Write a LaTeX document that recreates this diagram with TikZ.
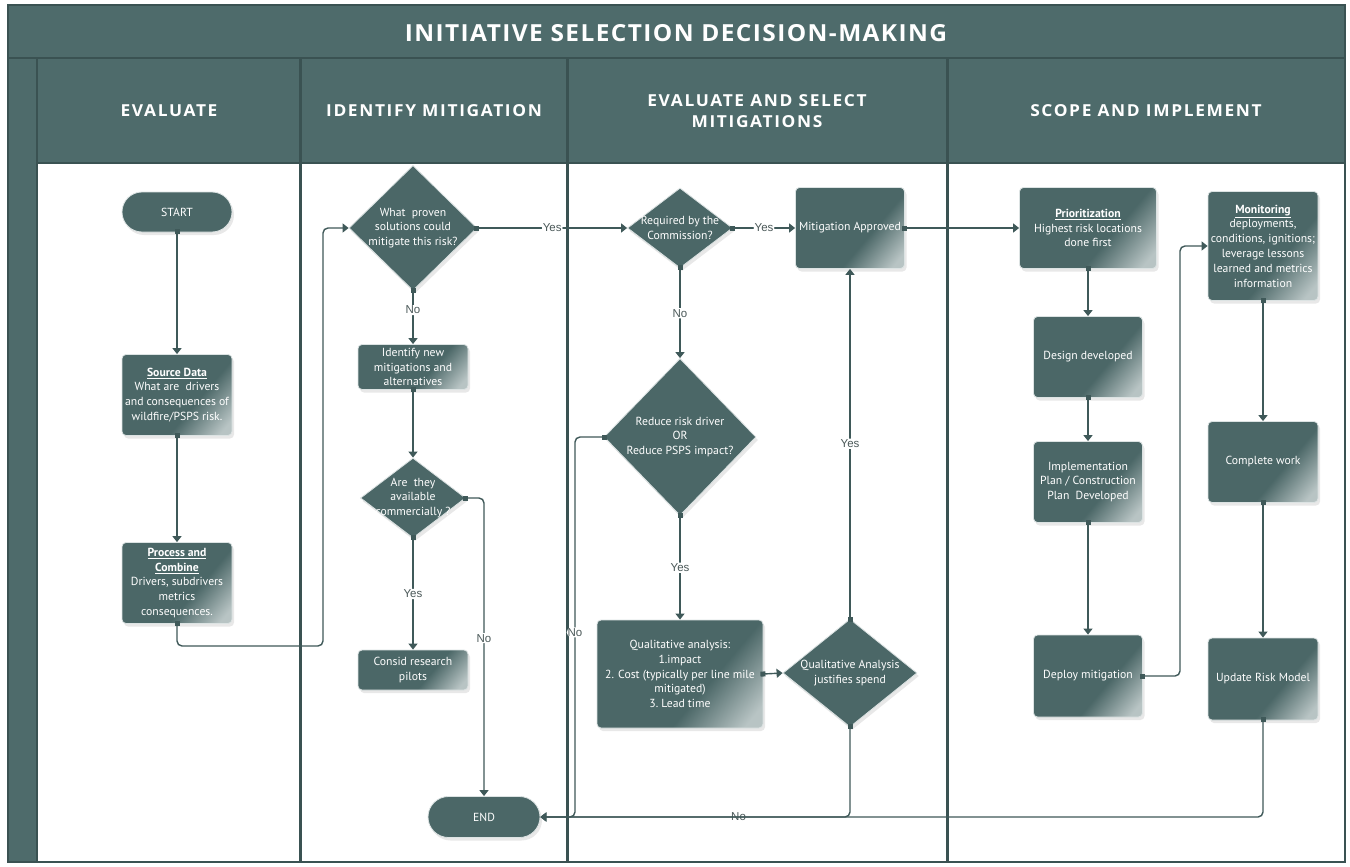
\documentclass[tikz,border=0pt]{standalone}
\usepackage{fontspec}
\setmainfont{PT Sans}
\newfontfamily\labfont{Liberation Sans}
\newfontfamily\hdrfont{Open Sans}[FakeStretch=1.05, LetterSpace=10]
\newfontfamily\ttlfont{Open Sans}[FakeStretch=1.04, LetterSpace=6]
\usetikzlibrary{shapes.geometric,shapes.misc,arrows.meta,shadows,calc}

\definecolor{teal1}{HTML}{4B6767}
\definecolor{tealhdr}{HTML}{4E6B6B}
\definecolor{tealline}{HTML}{3F5959}
\definecolor{teallight}{HTML}{B8C4C4}
\definecolor{sepcol}{HTML}{3A5252}
\definecolor{labcol}{HTML}{4A5858}
\definecolor{glow}{HTML}{DCE3E3}

\pgfdeclarehorizontalshading{boxshade}{100bp}{color(0bp)=(teal1); color(60bp)=(teal1); color(80bp)=(teallight); color(100bp)=(teallight)}

\tikzset{
  nodefont/.style={font=\fontsize{11.7}{14.8}\selectfont},
  shad/.style={drop shadow={opacity=0.18, shadow xshift=2pt, shadow yshift=-3pt}},
  box/.style={rectangle, rounded corners=4pt, draw=glow, line width=0.8pt,
    shading=boxshade, shading angle=-40, text=white, align=center,
    inner sep=0pt, nodefont, shad},
  term/.style={rounded rectangle, fill=teal1, draw=glow, line width=0.8pt,
    text=white, inner sep=0pt, nodefont, shad},
  dia/.style={diamond, fill=teal1, draw=glow, line width=0.8pt, inner sep=0pt, shad},
  dtxt/.style={text=white, align=center, inner sep=0pt, nodefont},
  hdr/.style={text=white, align=center, font=\hdrfont\bfseries\fontsize{16.5}{21}\selectfont},
  conn/.style={draw=tealline, line width=1.4pt, rounded corners=5pt,
    {Square[length=5pt,width=5pt]}-{Triangle[length=6pt,width=9pt]}, shorten <=-3pt},
  lbl/.style={fill=white, inner sep=1pt, text=labcol, font=\labfont\fontsize{11.5}{13}\selectfont},
  lblnf/.style={inner sep=1pt, text=labcol, font=\labfont\fontsize{11.5}{13}\selectfont},
}

\begin{document}
\begin{tikzpicture}[x=1pt,y=-1pt]
\useasboundingbox (0,0) rectangle (1350,867);
\fill[white] (0,0) rectangle (1350,867);

% frame, title, header
\fill[tealhdr] (8,5) rectangle (1345,58);
\fill[tealhdr] (8,58) rectangle (37,862);
\fill[tealhdr] (37,58) rectangle (1345,163);
\draw[sepcol, line width=2pt] (8,58) -- (1345,58);
\draw[sepcol, line width=2pt] (37,163) -- (1345,163);
\draw[sepcol, line width=2pt] (37,58) -- (37,862);
\foreach \xx in {300,567,947} {
  \draw[sepcol, line width=3pt] (\xx,58) -- (\xx,862);
}
\draw[sepcol, line width=2.5pt] (8,5) rectangle (1345,862);

\node[text=white, font=\ttlfont\bfseries\fontsize{23.5}{27}\selectfont] (title) at (676,33) {INITIATIVE SELECTION DECISION-MAKING};
\node[hdr] (h1) at (169,111) {EVALUATE};
\node[hdr] (h2) at (434,111) {IDENTIFY MITIGATION};
\node[hdr] (h3) at (757,111) {EVALUATE AND SELECT\\MITIGATIONS};
\node[hdr] (h4) at (1146,111) {SCOPE AND IMPLEMENT};

% lane 1
\node[term, minimum width=110pt, minimum height=40pt] (start) at (177,212) {START};
\node[box, minimum width=110pt, minimum height=81pt] (src) at (177,395)
  {\underline{\textbf{Source Data}}\\What are\ \ drivers\\and consequences of\\wildfire/PSPS risk.};
\node[box, minimum width=110pt, minimum height=81pt] (pc) at (177,583)
  {\underline{\textbf{Process and}}\\\underline{\textbf{Combine}}\\Drivers, subdrivers\\metrics\\consequences.};

% lane 2
\node[dia, minimum width=128pt, minimum height=125pt] (d1) at (413,228) {};
\node[dtxt] (d1t) at (413,228) {What\ \ proven\\solutions could\\mitigate this risk?};
\node[box, minimum width=110pt, minimum height=45pt] (idn) at (413,367)
  {Identify new\\mitigations and\\alternatives};
\node[dia, minimum width=105pt, minimum height=80pt] (d2) at (413,498) {};
\node[dtxt] (d2t) at (413,498) {Are\ \ they\\available\\commercially ?};
\node[box, minimum width=110pt, minimum height=40pt] (cons) at (413,670)
  {Consid research\\pilots};
\node[term, minimum width=112pt, minimum height=41pt] (end) at (484,817) {END};

% lane 3
\node[dia, minimum width=105pt, minimum height=80pt] (d3) at (680,228) {};
\node[dtxt] (d3t) at (680,228) {Required by the\\Commission?};
\node[box, minimum width=109pt, minimum height=81pt] (appr) at (850,228) {Mitigation Approved};
\node[dia, minimum width=152pt, minimum height=157pt] (d4) at (680,437) {};
\node[dtxt] (d4t) at (680,437) {Reduce risk driver\\OR\\Reduce PSPS impact?};
\node[box, minimum width=166pt, minimum height=108pt] (qa) at (680,674)
  {Qualitative analysis:\\1.impact\\2. Cost (typically per line mile\\mitigated)\\3.\ Lead time};
\node[dia, minimum width=134pt, minimum height=108pt] (d5) at (850,673) {};
\node[dtxt] (d5t) at (850,673) {Qualitative Analysis\\justifies spend};

% lane 4
\node[box, minimum width=137pt, minimum height=81pt] (prio) at (1088,228)
  {\underline{\textbf{Prioritization}}\\Highest risk locations\\done first};
\node[box, minimum width=109pt, minimum height=81pt] (des) at (1088,357) {Design developed};
\node[box, minimum width=109pt, minimum height=81pt] (impl) at (1088,482)
  {Implementation\\Plan / Construction\\Plan\ \ Developed};
\node[box, minimum width=109pt, minimum height=82pt] (dep) at (1088,676) {Deploy mitigation};
\node[box, minimum width=110pt, minimum height=109pt] (mon) at (1263,246)
  {\underline{\textbf{Monitoring}}\\deployments,\\conditions, ignitions;\\leverage lessons\\learned and metrics\\information};
\node[box, minimum width=110pt, minimum height=81pt] (comp) at (1263,462) {Complete work};
\node[box, minimum width=110pt, minimum height=82pt] (upd) at (1263,679) {Update Risk Model};

% helper coordinates
\coordinate (c1) at (323,646);
\coordinate (c2) at (575,817);
\coordinate (c3) at (1180,676);

% connectors
\draw[conn] (start.south) -- (src.north);
\draw[conn] (src.south) -- (pc.north);
\draw[conn] (pc.south) |- (c1) |- (d1.west);
\draw[conn] (d1.east) -- node[lbl]{Yes} (d3.west);
\draw[conn] (d1.south) -- node[lbl, pos=0.36]{No} (idn.north);
\draw[conn] (idn.south) -- (d2.north);
\draw[conn] (d2.south) -- node[lbl]{Yes} (cons.north);
\draw[conn] (d2.east) -| node[lbl, pos=0.735]{No} (end.north);
\draw[conn] (d3.east) -- node[lbl]{Yes} (appr.west);
\draw[conn] (d3.south) -- node[lbl]{No} (d4.north);
\draw[conn] (appr.east) -- (prio.west);
\draw[conn] (d4.south) -- node[lbl]{Yes} (qa.north);
\draw[conn] (d4.west) -| node[lbl, pos=0.757]{No} (c2) -- (end.east);
\draw[conn] (qa.east) -- (d5.west);
\draw[conn] (d5.north) -- node[lbl]{Yes} (appr.south);
\draw[conn] (d5.south) |- node[lblnf, pos=0.68]{No} (end.east);
\draw[conn] (prio.south) -- (des.north);
\draw[conn] (des.south) -- (impl.north);
\draw[conn] (impl.south) -- (dep.north);
\draw[conn] (dep.east) -- (c3) |- (mon.west);
\draw[conn] (mon.south) -- (comp.north);
\draw[conn] (comp.south) -- (upd.north);
\draw[conn] (upd.south) |- (end.east);
\end{tikzpicture}
\end{document}
